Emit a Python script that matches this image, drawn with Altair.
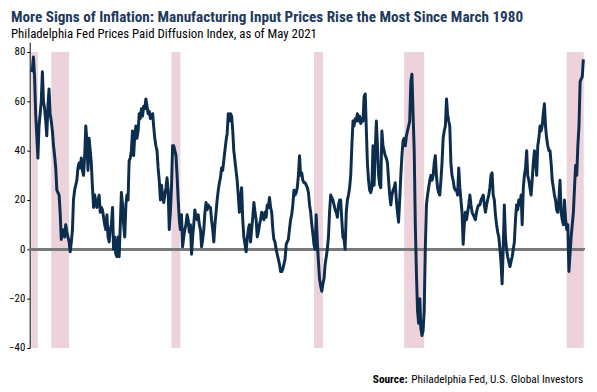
import altair as alt
import pandas as pd

# Monthly Philadelphia Fed prices-paid diffusion index
v1980s = [
    72, 73, 78, 70, 55, 46, 37, 50, 55, 60, 72, 60,
    57, 52, 46, 58, 65, 55, 52, 48, 42, 38, 33, 24,
    23, 22, 15, 4, 8, 6, 5, 10, 7, 5, 3, -1,
    3, 8, 20, 24, 26, 28, 33, 35, 33, 37, 32, 30,
    38, 50, 44, 32, 45, 40, 35, 25, 17, 22, 19, 17,
    20, 22, 15, 17, 16, 13, 10, 8, 14, 5, 3, 8,
    10, 17, 0, 5, -2, -3, 5, -3, 10, 23, 18, 10,
    5, 18, 22, 20, 36, 37, 40, 48, 38, 46, 50, 45,
    48, 55, 53, 57, 54, 58, 57, 61, 58, 55, 56, 53,
    54, 55, 50, 45, 42, 40, 33, 28, 20, 26, 22, 19,
]
v1990s = [
    22, 25, 29, 24, 8, 15, 25, 42, 42, 40, 38, 30,
    20, 12, 8, 14, 1, 5, 8, 10, 14, 12, 7, 10,
    -2, 5, 10, 16, 13, 12, 14, 10, 8, 1, 4, 8,
    15, 19, 16, 18, 17, 17, 12, 8, 3, 10, 15, 20,
    24, 27, 29, 33, 32, 36, 40, 44, 47, 55, 52, 55,
    54, 48, 40, 36, 32, 28, 22, 15, 20, 25, 12, 5,
    2, -1, 4, 8, 10, 3, 8, 13, 19, 15, 12, 5,
    7, 10, 12, 15, 13, 12, 15, 13, 18, 17, 21, 17,
    15, 8, 4, 3, 0, -2, -4, -6, -9, -9, -8, -6,
    -4, 2, 3, 4, 8, 12, 14, 18, 24, 22, 23, 25,
]
v2000s = [
    30, 38, 30, 31, 28, 27, 27, 26, 25, 23, 18, 15,
    10, 6, 2, 0, 14, 3, -5, -12, -15, -17, -14, -12,
    -6, -3, 0, 5, 15, 22, 21, 20, 18, 16, 15, 13,
    18, 20, 20, 12, 5, 4, 0, 15, 20, 22, 25, 30,
    42, 52, 50, 53, 52, 55, 52, 54, 51, 53, 52, 62,
    63, 48, 35, 28, 24, 23, 25, 42, 26, 40, 52, 42,
    30, 26, 25, 48, 42, 40, 38, 37, 35, 28, 22, 18,
    22, 24, 25, 27, 20, 15, 11, 20, 30, 38, 44, 45,
    42, 46, 48, 50, 52, 68, 71, 55, 40, 10, -10, -25,
    -30, -20, -32, -35, -33, -25, 0, 18, 22, 25, 28, 30,
]
v2010s = [
    28, 30, 35, 38, 30, 25, 23, 22, 28, 35, 45, 48,
    50, 61, 55, 52, 50, 35, 30, 28, 25, 24, 24, 22,
    33, 25, 20, 15, 2, 10, 15, 12, 15, 18, 22, 18,
    15, 14, 13, 12, 15, 17, 18, 18, 20, 21, 22, 18,
    15, 18, 20, 22, 25, 30, 31, 22, 20, 14, 10, 7,
    5, 0, -5, -14, 0, 18, 5, 0, -3, -5, -7, -5,
    -3, 0, 3, 12, 18, 16, 20, 18, 22, 10, 25, 30,
    33, 40, 30, 28, 25, 22, 28, 35, 40, 36, 30, 42,
    45, 50, 48, 50, 55, 59, 50, 45, 42, 40, 40, 35,
    28, 25, 22, 20, 16, 15, 20, 28, 15, 12, 10, 20,
]
v2020s = [
    12, 8, 10, -9, -2, 5, 10, 15, 25, 34, 30, 42,
    50, 68, 69, 70, 77,
]

rec_start = ["1980-01-01", "1981-07-01", "1990-07-01", "2001-03-01", "2007-12-01", "2020-02-01"]
rec_end = ["1980-07-01", "1982-11-01", "1991-03-01", "2001-11-01", "2009-06-01", "2021-05-10"]

tick_years = [1985, 1990, 1995, 2000, 2005, 2010, 2015, 2020]
y_ticks = [-40, -20, 0, 20, 40, 60, 80]

title_text = "More Signs of Inflation: Manufacturing Input Prices Rise the Most Since March 1980"
subtitle_text = "Philadelphia Fed Prices Paid Diffusion Index, as of May 2021"
source_bold = "Source:"
source_rest = "Philadelphia Fed, U.S. Global Investors"

values = v1980s + v1990s + v2000s + v2010s + v2020s
df = pd.DataFrame({
    "date": pd.date_range("1980-01-01", periods=len(values), freq="MS"),
    "value": values,
})
rec = pd.DataFrame({"start": pd.to_datetime(rec_start), "end": pd.to_datetime(rec_end)})

FONT = "Liberation Sans Narrow, Roboto Condensed, Arial Narrow, sans-serif"
NAVY = "#0c2d4d"

x_scale = alt.Scale(domain=[alt.DateTime(year=1979, month=11, date=20),
                            alt.DateTime(year=2021, month=5, date=20)])
y_scale = alt.Scale(domain=[-40, 84], nice=False, zero=False)

bands = alt.Chart(rec).mark_rect(color="#ecd2db").encode(
    x=alt.X("start:T", scale=x_scale, axis=None),
    x2="end:T",
    y=alt.datum(-40, scale=y_scale),
    y2=alt.datum(80),
)

zero = alt.Chart(df).mark_rule(color="#7a7a7a", strokeWidth=2).encode(
    y=alt.datum(0, scale=y_scale)
)

line = alt.Chart(df).mark_line(color=NAVY, strokeWidth=3, strokeJoin="round").encode(
    x=alt.X("date:T", scale=x_scale,
            axis=alt.Axis(values=[alt.DateTime(year=y) for y in tick_years], format="%Y",
                          title=None, grid=False, domain=False, position=210,
                          ticks=True, tickSize=5, tickColor="#333333", tickWidth=1,
                          labelPadding=104, labelFont=FONT, labelFontSize=11.5,
                          labelColor="black", zindex=1)),
    y=alt.Y("value:Q", scale=y_scale,
            axis=alt.Axis(values=y_ticks, title=None, grid=False, domainColor="black",
                          domainWidth=1, tickColor="black", tickSize=3, labelPadding=2,
                          labelFont=FONT, labelFontSize=11, labelColor="black")),
)

src1 = alt.Chart(pd.DataFrame({"t": [source_bold]})).mark_text(
    align="right", baseline="middle", font=FONT, fontSize=11.5, fontWeight="bold", color="black"
).encode(text="t:N", x=alt.value(383), y=alt.value(343))

src2 = alt.Chart(pd.DataFrame({"t": [source_rest]})).mark_text(
    align="right", baseline="middle", font=FONT, fontSize=11.5, color="black"
).encode(text="t:N", x=alt.value(561), y=alt.value(343))

chart = alt.layer(bands, zero, line, src1, src2).properties(
    width=562,
    height=310,
    autosize=alt.AutoSizeParams(type="none"),
    padding={"left": 22, "top": 32, "right": 5, "bottom": 42},
    title=alt.TitleParams(
        text=title_text, subtitle=subtitle_text, anchor="start", frame="group",
        dx=-19, offset=1, font=FONT, fontSize=15.4, fontWeight="bold", color="#1d3a5c",
        subtitleFont=FONT, subtitleFontSize=13, subtitleColor="black", subtitlePadding=3,
    ),
).configure_view(stroke=None)

chart.save("out.html", embed_options={"renderer": "svg", "actions": False})
